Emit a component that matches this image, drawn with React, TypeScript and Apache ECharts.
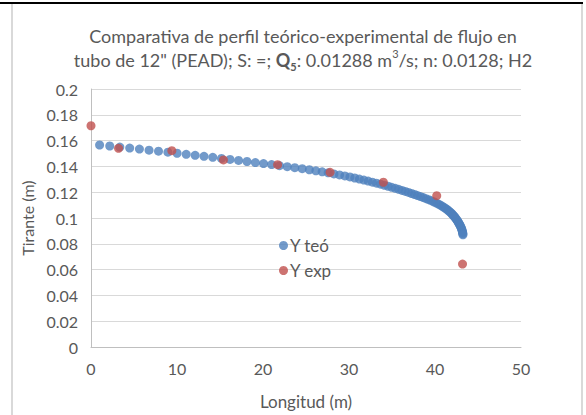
import React, { useEffect, useRef } from "react";
import * as echarts from "echarts";

const teoX = [
  1.0, 2.18, 3.35, 4.5, 5.63, 6.75, 7.85, 8.94, 10.01, 11.07,
  12.11, 13.14, 14.16, 15.17, 16.17, 17.16, 18.14, 19.11, 20.06, 21.0,
  21.92, 22.82, 23.7, 24.56, 25.39, 26.15, 26.88, 27.58, 28.25, 28.9,
  29.52, 30.11, 30.67, 31.21, 31.73, 32.23, 32.72, 33.2, 33.67, 34.12,
  34.55, 34.97, 35.38, 35.78, 36.17, 36.55, 36.92, 37.28, 37.63, 37.97,
  38.31, 38.64, 38.96, 39.27, 39.56, 39.84, 40.1, 40.34, 40.56, 40.77,
  40.96, 41.14, 41.31, 41.47, 41.62, 41.76, 41.89, 42.0, 42.11, 42.21,
  42.31, 42.4, 42.49, 42.57, 42.65, 42.72, 42.79, 42.86, 42.92, 42.98,
  43.03, 43.08, 43.12, 43.16, 43.19, 43.22, 43.24, 43.25,
];
const teoY = [
  0.1566, 0.1558, 0.155, 0.1542, 0.1534, 0.1526, 0.1518, 0.151, 0.1502, 0.1494,
  0.1486, 0.1478, 0.147, 0.1462, 0.1454, 0.1446, 0.1438, 0.143, 0.1422, 0.1414,
  0.1406, 0.1398, 0.139, 0.1382, 0.1374, 0.1366, 0.1358, 0.135, 0.1342, 0.1334,
  0.1326, 0.1318, 0.131, 0.1302, 0.1294, 0.1286, 0.1278, 0.127, 0.1262, 0.1254,
  0.1246, 0.1238, 0.123, 0.1222, 0.1214, 0.1206, 0.1198, 0.119, 0.1182, 0.1174,
  0.1166, 0.1158, 0.115, 0.1142, 0.1134, 0.1126, 0.1118, 0.111, 0.1102, 0.1094,
  0.1086, 0.1078, 0.107, 0.1062, 0.1054, 0.1046, 0.1038, 0.103, 0.1022, 0.1014,
  0.1006, 0.0998, 0.099, 0.0982, 0.0974, 0.0966, 0.0958, 0.095, 0.0942, 0.0934,
  0.0926, 0.0918, 0.091, 0.0902, 0.0894, 0.0886, 0.0878, 0.087,
];
const expX = [0, 3.2, 9.4, 15.4, 21.7, 27.8, 34.0, 40.2, 43.2];
const expY = [0.1715, 0.154, 0.1522, 0.145, 0.1413, 0.1354, 0.1277, 0.1173, 0.0643];

const seriesNames = ["Y teó", "Y exp"];
const xAxisName = "Longitud (m)";
const yAxisName = "Tirante (m)";

const FONT = "Lato, 'Open Sans', sans-serif";
const TXT = "#595959";

export default function App() {
  const ref = useRef<HTMLDivElement>(null);
  useEffect(() => {
    if (!ref.current) return;
    const chart = echarts.init(ref.current, undefined, { renderer: "svg" });
    const teo = teoX.map((x, i) => [x, teoY[i]]);
    const exp = expX.map((x, i) => [x, expY[i]]);
    chart.setOption({
      animation: false,
      backgroundColor: "#ffffff",
      textStyle: { fontFamily: FONT, color: TXT },
      title: {
        left: 298,
        textAlign: "center",
        top: 19,
        text:
          'Comparativa de perfil teórico-experimental de flujo en\ntubo de 12" (PEAD); S: =; {b|Q}{sub|5}: 0.01288 m{sup|3}/s; n: 0.0128; H2',
        textStyle: {
          fontFamily: FONT,
          fontSize: 18,
          fontWeight: "normal",
          color: TXT,
          lineHeight: 24,
          rich: {
            b: { fontFamily: FONT, fontSize: 18, fontWeight: "bold", color: TXT, lineHeight: 24 },
            sub: { fontFamily: FONT, fontSize: 11, fontWeight: "bold", color: TXT, lineHeight: 11, verticalAlign: "bottom" },
            sup: { fontFamily: FONT, fontSize: 11, color: TXT, lineHeight: 16, verticalAlign: "top" },
          },
        },
      },
      graphic: [
        { type: "rect", shape: { x: 0, y: 2, width: 583, height: 2 }, style: { fill: "#000000" } },
        { type: "rect", shape: { x: 11, y: 4, width: 2, height: 411 }, style: { fill: "#d9d9d9" } },
        { type: "rect", shape: { x: 581, y: 4, width: 2, height: 411 }, style: { fill: "#d9d9d9" } },
      ],
      legend: {
        orient: "vertical",
        left: 274,
        top: 232,
        itemGap: 8,
        itemWidth: 9,
        itemHeight: 9,
        icon: "circle",
        textStyle: { fontFamily: FONT, fontSize: 17, color: TXT, padding: [0, 0, 0, -3] },
        data: seriesNames,
      },
      grid: { left: 91, right: 65, top: 89, bottom: 68 },
      xAxis: {
        type: "value",
        min: 0,
        max: 50,
        interval: 10,
        name: xAxisName,
        nameLocation: "middle",
        nameGap: 46,
        nameTextStyle: { fontFamily: FONT, fontSize: 17, color: TXT },
        axisLine: { show: true, lineStyle: { color: "#bfbfbf", width: 1 } },
        axisTick: { show: false },
        splitLine: { show: false },
        axisLabel: { fontFamily: FONT, fontSize: 16, color: TXT, margin: 13 },
      },
      yAxis: {
        type: "value",
        min: 0,
        max: 0.2,
        interval: 0.02,
        name: yAxisName,
        nameLocation: "middle",
        nameGap: 52,
        nameRotate: 90,
        nameTextStyle: { fontFamily: FONT, fontSize: 16, color: TXT },
        axisLine: { show: true, lineStyle: { color: "#bfbfbf", width: 1 } },
        axisTick: { show: false },
        splitLine: { show: true, lineStyle: { color: "#d9d9d9", width: 1 } },
        axisLabel: { fontFamily: FONT, fontSize: 16, color: TXT, margin: 13 },
      },
      series: [
        {
          name: seriesNames[0],
          type: "scatter",
          data: teo,
          symbol: "circle",
          symbolSize: 9,
          itemStyle: { color: "#4f81bd" },
        },
        {
          name: seriesNames[1],
          type: "scatter",
          data: exp,
          symbol: "circle",
          symbolSize: 9,
          itemStyle: { color: "#c0504d" },
        },
      ],
    });
    return () => chart.dispose();
  }, []);
  return (
    <div
      ref={ref}
      style={{ position: "fixed", left: 0, top: 0, width: 586, height: 415, background: "#fff" }}
    />
  );
}
